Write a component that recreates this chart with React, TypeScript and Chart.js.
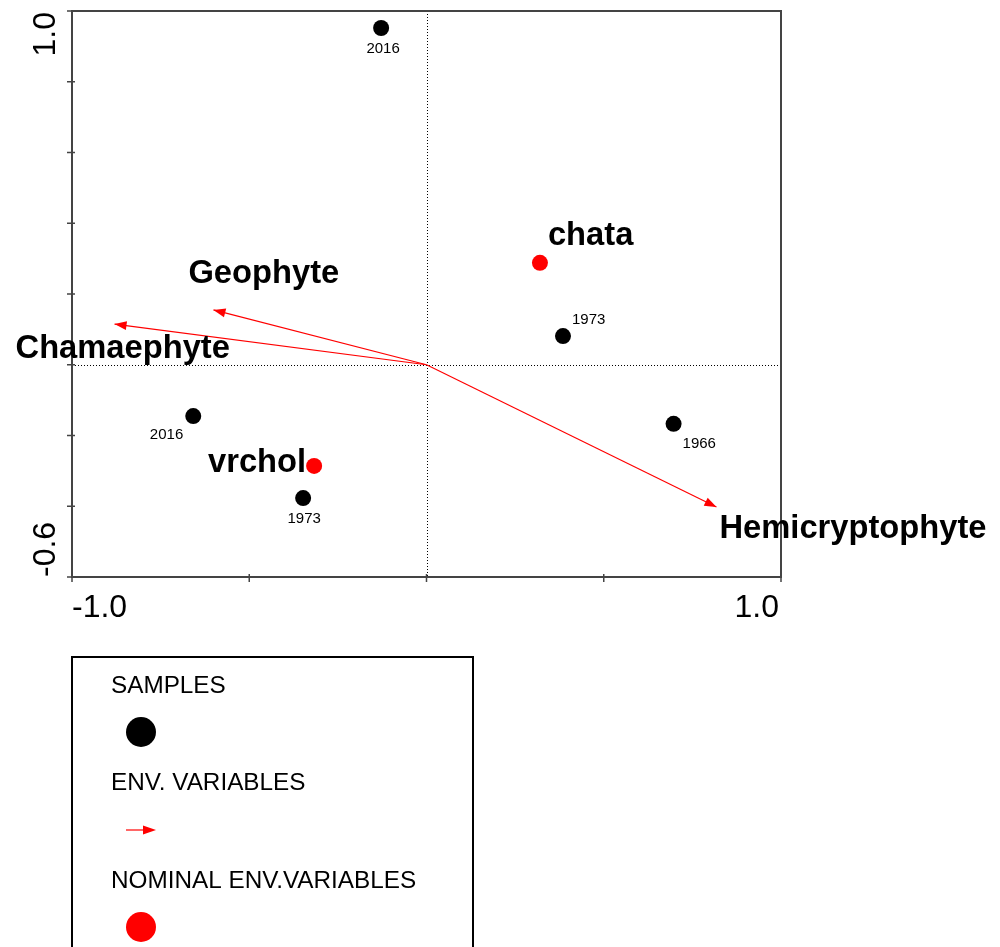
import React, { useEffect, useRef } from "react";
import { Chart, registerables } from "chart.js";

Chart.register(...registerables);

// ---------- data ----------
const sampleLabels = ["2016", "1973", "1966", "2016", "1973"];
const sampleX = [-0.128, 0.385, 0.697, -0.658, -0.348];
const sampleY = [0.952, 0.081, -0.167, -0.145, -0.377];

const nominalLabels = ["chata", "vrchol"];
const nominalX = [0.32, -0.317];
const nominalY = [0.288, -0.286];

const envNames = ["Geophyte", "Chamaephyte", "Hemicryptophyte"];
const envX = [-0.601, -0.88, 0.818];
const envY = [0.155, 0.115, -0.402];

const xTicks = [-1, -0.5, 0, 0.5, 1];
const yTicks = [-0.6, -0.4, -0.2, 0, 0.2, 0.4, 0.6, 0.8, 1.0];
const xTickLabelValues = [-1, 1];
const xTickLabelTexts = ["-1.0", "1.0"];
const yTickLabelValues = [1.0, -0.6];
const yTickLabelTexts = ["1.0", "-0.6"];

const legendTitles = ["SAMPLES", "ENV. VARIABLES", "NOMINAL ENV.VARIABLES"];

// ---------- styling / label placement ----------
const FONT = '"Liberation Sans", Arial, sans-serif';
const RED = "#ff0000";
// [dx, dy(baseline), align]
const sampleLabelPlace: [number, number, CanvasTextAlign][] = [
  [2, 25, "center"],
  [9, -12, "left"],
  [9, 24, "left"],
  [-10, 23, "right"],
  [1, 25, "center"],
];
const nominalLabelPlace: [number, number, CanvasTextAlign][] = [
  [8, -18, "left"],
  [-8, 6, "right"],
];
const envLabelPlace: [number, number, CanvasTextAlign][] = [
  [-25, -27, "left"],
  [-99, 34, "left"],
  [3, 31, "left"],
];

function arrowHead(ctx: CanvasRenderingContext2D, x0: number, y0: number, x1: number, y1: number, len: number, half: number) {
  const a = Math.atan2(y1 - y0, x1 - x0);
  const c = Math.cos(a), s = Math.sin(a);
  ctx.beginPath();
  ctx.moveTo(x1, y1);
  ctx.lineTo(x1 - len * c + half * s, y1 - len * s - half * c);
  ctx.lineTo(x1 - len * c - half * s, y1 - len * s + half * c);
  ctx.closePath();
  ctx.fill();
}

const ordinationPlugin = {
  id: "ordination",
  beforeDraw(chart: any) {
    const ctx = chart.ctx;
    ctx.save();
    ctx.fillStyle = "#ffffff";
    ctx.fillRect(0, 0, chart.width, chart.height);
    ctx.restore();
  },
  beforeDatasetsDraw(chart: any) {
    const ctx = chart.ctx as CanvasRenderingContext2D;
    const { left, right, top, bottom } = chart.chartArea;
    const xs = chart.scales.x, ys = chart.scales.y;
    const x0 = Math.round(xs.getPixelForValue(0)) + 0.5;
    const y0 = Math.round(ys.getPixelForValue(0)) + 0.5;
    ctx.save();
    ctx.strokeStyle = "#000";
    ctx.lineWidth = 1;
    ctx.setLineDash([1, 2]);
    ctx.beginPath();
    ctx.moveTo(x0, top);
    ctx.lineTo(x0, bottom);
    ctx.moveTo(left, y0);
    ctx.lineTo(right, y0);
    ctx.stroke();
    ctx.restore();
  },
  afterDatasetsDraw(chart: any) {
    const ctx = chart.ctx as CanvasRenderingContext2D;
    const { left, right, top, bottom } = chart.chartArea;
    const xs = chart.scales.x, ys = chart.scales.y;
    const px = (v: number) => xs.getPixelForValue(v);
    const py = (v: number) => ys.getPixelForValue(v);
    ctx.save();

    // arrow heads
    ctx.fillStyle = RED;
    envX.forEach((vx, i) => {
      arrowHead(ctx, px(0), py(0), px(vx), py(envY[i]), 12, 4.5);
    });

    // frame
    ctx.strokeStyle = "#444";
    ctx.lineWidth = 2;
    ctx.strokeRect(left, top, right - left, bottom - top);

    // ticks
    ctx.lineWidth = 1.5;
    ctx.beginPath();
    xTicks.forEach((t) => {
      const x = px(t);
      ctx.moveTo(x, bottom - 3);
      ctx.lineTo(x, bottom + 5);
    });
    yTicks.forEach((t) => {
      const y = py(t);
      ctx.moveTo(left - 5, y);
      ctx.lineTo(left + 3, y);
    });
    ctx.stroke();

    // tick labels
    ctx.fillStyle = "#000";
    ctx.font = `32px ${FONT}`;
    ctx.textBaseline = "alphabetic";
    xTickLabelValues.forEach((v, i) => {
      const x = px(v);
      ctx.textAlign = i === 0 ? "left" : "right";
      ctx.fillText(xTickLabelTexts[i], i === 0 ? x : x - 2, bottom + 40);
    });
    yTickLabelValues.forEach((v, i) => {
      const y = py(v);
      ctx.save();
      ctx.translate(left - 17, i === 0 ? y + 1 : y);
      ctx.rotate(-Math.PI / 2);
      ctx.textAlign = i === 0 ? "right" : "left";
      ctx.fillText(yTickLabelTexts[i], 0, 0);
      ctx.restore();
    });

    // sample labels
    ctx.font = `15px ${FONT}`;
    sampleX.forEach((vx, i) => {
      const [dx, dy, al] = sampleLabelPlace[i];
      ctx.textAlign = al;
      ctx.fillText(sampleLabels[i], px(vx) + dx, py(sampleY[i]) + dy);
    });

    // nominal and env labels
    ctx.font = `bold 32.7px ${FONT}`;
    nominalX.forEach((vx, i) => {
      const [dx, dy, al] = nominalLabelPlace[i];
      ctx.textAlign = al;
      ctx.fillText(nominalLabels[i], px(vx) + dx, py(nominalY[i]) + dy);
    });
    envX.forEach((vx, i) => {
      const [dx, dy, al] = envLabelPlace[i];
      ctx.textAlign = al;
      ctx.fillText(envNames[i], px(vx) + dx, py(envY[i]) + dy);
    });

    // legend
    ctx.strokeStyle = "#000";
    ctx.lineWidth = 2;
    ctx.strokeRect(72, 657, 401, 330);
    ctx.font = `24.3px ${FONT}`;
    ctx.textAlign = "left";
    ctx.fillStyle = "#000";
    ctx.fillText(legendTitles[0], 111, 693);
    ctx.fillText(legendTitles[1], 111, 790);
    ctx.fillText(legendTitles[2], 111, 888);
    ctx.beginPath();
    ctx.arc(141, 732, 15, 0, Math.PI * 2);
    ctx.fill();
    ctx.strokeStyle = RED;
    ctx.fillStyle = RED;
    ctx.lineWidth = 1.2;
    ctx.beginPath();
    ctx.moveTo(126, 830);
    ctx.lineTo(146, 830);
    ctx.stroke();
    arrowHead(ctx, 126, 830, 156, 830, 13, 4.5);
    ctx.beginPath();
    ctx.arc(141, 927, 15, 0, Math.PI * 2);
    ctx.fill();

    ctx.restore();
  },
};

export default function App() {
  const canvasRef = useRef<HTMLCanvasElement | null>(null);

  useEffect(() => {
    if (!canvasRef.current) return;
    const envDatasets = envNames.map((name, i) => ({
      label: name,
      data: [
        { x: 0, y: 0 },
        { x: envX[i], y: envY[i] },
      ],
      showLine: true,
      borderColor: RED,
      borderWidth: 1.2,
      pointRadius: 0,
      pointHoverRadius: 0,
      fill: false,
    }));
    const chart = new Chart(canvasRef.current, {
      type: "scatter",
      data: {
        datasets: [
          {
            label: "SAMPLES",
            data: sampleX.map((x, i) => ({ x, y: sampleY[i] })),
            backgroundColor: "#000",
            borderWidth: 0,
            pointRadius: 8,
            pointHoverRadius: 8,
          },
          {
            label: "NOMINAL ENV.VARIABLES",
            data: nominalX.map((x, i) => ({ x, y: nominalY[i] })),
            backgroundColor: RED,
            borderWidth: 0,
            pointRadius: 8,
            pointHoverRadius: 8,
          },
          ...envDatasets,
        ] as any,
      },
      options: {
        responsive: false,
        animation: false,
        devicePixelRatio: 1,
        events: [],
        layout: { padding: { left: 72, right: 219, top: 11, bottom: 370 } },
        scales: {
          x: { type: "linear", min: -1, max: 1, display: false },
          y: { type: "linear", min: -0.6, max: 1.0, display: false },
        },
        plugins: {
          legend: { display: false },
          tooltip: { enabled: false },
        },
      },
      plugins: [ordinationPlugin],
    });
    return () => chart.destroy();
  }, []);

  return (
    <div style={{ position: "absolute", left: 0, top: 0, width: 1000, height: 947, overflow: "hidden", background: "#fff" }}>
      <canvas ref={canvasRef} width={1000} height={947} style={{ display: "block" }} />
    </div>
  );
}
